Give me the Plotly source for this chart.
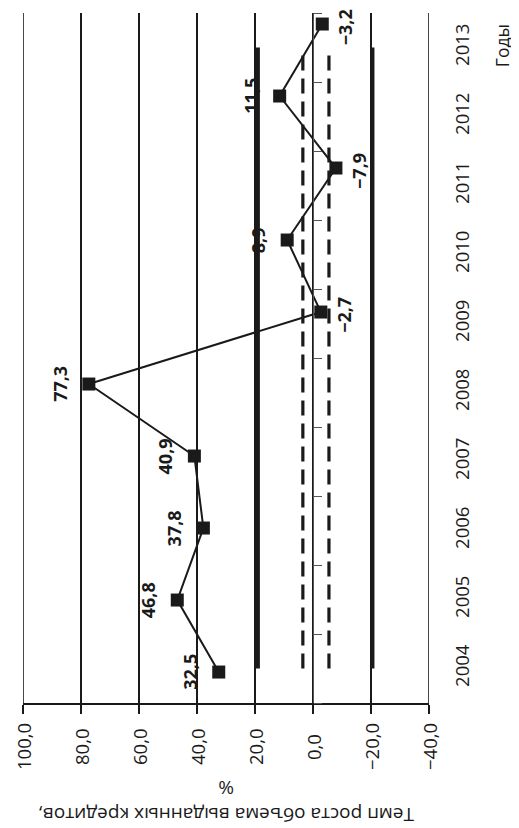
import plotly.graph_objects as go

# ---- data ----
years = ["2004", "2005", "2006", "2007", "2008", "2009", "2010", "2011", "2012", "2013"]
growth = [32.5, 46.8, 37.8, 40.9, 77.3, -2.7, 8.9, -7.9, 11.5, -3.2]
labels = ["32,5", "46,8", "37,8", "40,9", "77,3", "\u22122,7", "8,9", "\u22127,9", "11,5", "\u22123,2"]
band_outer = [19.0, -20.5]   # thick solid bounds
band_inner = [3.5, -5.5]     # dashed bounds
value_ticks = [100, 80, 60, 40, 20, 0, -20, -40]
value_tick_text = ["100,0", "80,0", "60,0", "40,0", "20,0", "0,0", "\u221220,0", "\u221240,0"]
x_title_lines = ["Темп роста объема выданных кредитов,", "%"]
y_title = "Годы"

FONT = "Open Sans"
INK = "#1a1a1a"

fig = go.Figure()

# band lines on the category axis y2 (from first to last year)
for v in band_outer:
    fig.add_trace(go.Scatter(x=[v, v], y=[years[0], years[-1]], mode="lines",
                             line=dict(color=INK, width=4), yaxis="y2", showlegend=False,
                             hoverinfo="skip"))
for v in band_inner:
    fig.add_trace(go.Scatter(x=[v, v], y=[years[0], years[-1]], mode="lines",
                             line=dict(color=INK, width=3.2, dash="15px,8px"), yaxis="y2",
                             showlegend=False, hoverinfo="skip"))

# main series on primary y
fig.add_trace(go.Scatter(x=growth, y=years, mode="lines+markers", yaxis="y",
                         line=dict(color=INK, width=2),
                         marker=dict(symbol="square", size=13, color=INK),
                         showlegend=False))

annotations = []
for i, (yr, v, lab) in enumerate(zip(years, growth, labels)):
    annotations.append(dict(x=v, y=i, xref="x", yref="y", text="<b>" + lab + "</b>",
                            showarrow=False, textangle=-90,
                            xanchor="center", yanchor="middle",
                            xshift=-29 if v > 0 else 23,
                            yshift=0 if v > 0 else -3,
                            font=dict(family=FONT, size=18, color=INK)))
for v, t in zip(value_ticks, value_tick_text):
    annotations.append(dict(x=v, y=0, xref="x", yref="paper", text=t, showarrow=False,
                            textangle=-90, xanchor="center", yanchor="middle", yshift=-44,
                            font=dict(family=FONT, size=18.5, color=INK)))
# axis title (shown upside down, as in the rotated original)
for line, shift in zip(x_title_lines, (-112, -85)):
    annotations.append(dict(x=0.5, y=0, xref="paper", yref="paper", text=line,
                            showarrow=False, textangle=180, xanchor="center",
                            yanchor="middle", yshift=shift,
                            font=dict(family=FONT, size=19, color=INK)))
annotations.append(dict(x=1.18, y=0.952, xref="paper", yref="paper", text=y_title,
                        showarrow=False, textangle=-90, xanchor="center", yanchor="middle",
                        font=dict(family=FONT, size=17.5, color=INK)))

xmax, xmin = value_ticks[0], value_ticks[-1]
zero_pos = (xmax - 0) / (xmax - xmin)

# edge grid lines (plotly drops grid lines lying on the plot edge)
shapes = [dict(type="line", xref="x", yref="paper", x0=v, x1=v, y0=0, y1=1,
               line=dict(color=INK, width=1.6)) for v in (xmax, xmin)]

fig.update_layout(
    width=511, height=820,
    margin=dict(l=15, r=90, t=5, b=125),
    paper_bgcolor="white", plot_bgcolor="white",
    font=dict(family=FONT, size=17, color=INK),
    xaxis=dict(range=[xmax, xmin], tickvals=value_ticks, showticklabels=False,
               automargin=False,
               showgrid=True, gridcolor=INK, gridwidth=1.6, zeroline=False,
               showline=True, linecolor=INK, linewidth=1.6,
               ticks="outside", ticklen=9, tickwidth=1.6, tickcolor=INK),
    yaxis=dict(type="category", categoryarray=years, automargin=False,
               range=[-0.43, len(years) - 1 + 0.153], showticklabels=False,
               showline=False, showgrid=False, zeroline=False, ticks=""),
    yaxis2=dict(type="category", categoryarray=years, overlaying="y",
                range=[-0.5, len(years) - 0.5],
                anchor="free", position=zero_pos, side="right", automargin=False,
                showline=True, linecolor="#555", linewidth=1.2,
                ticks="outside", ticklen=8, tickwidth=1.2, tickcolor="#555",
                tickmode="array", tickvals=[i - 0.5 for i in range(len(years) + 1)],
                showticklabels=False, showgrid=False, zeroline=False),
    yaxis3=dict(type="category", categoryarray=years, overlaying="y", anchor="x",
                side="right", range=[-0.5, len(years) - 0.5], automargin=False,
                tickmode="array", tickvals=years, ticktext=years, tickangle=-90,
                ticks="", showline=False, showgrid=False, zeroline=False,
                ticklabelstandoff=20, tickfont=dict(family=FONT, size=18.5, color=INK)),
    annotations=annotations,
    shapes=shapes,
)

# dummy trace so yaxis3 is rendered
fig.add_trace(go.Scatter(x=[None], y=[None], yaxis="y3", showlegend=False, hoverinfo="skip"))

fig.write_html("out.html")
